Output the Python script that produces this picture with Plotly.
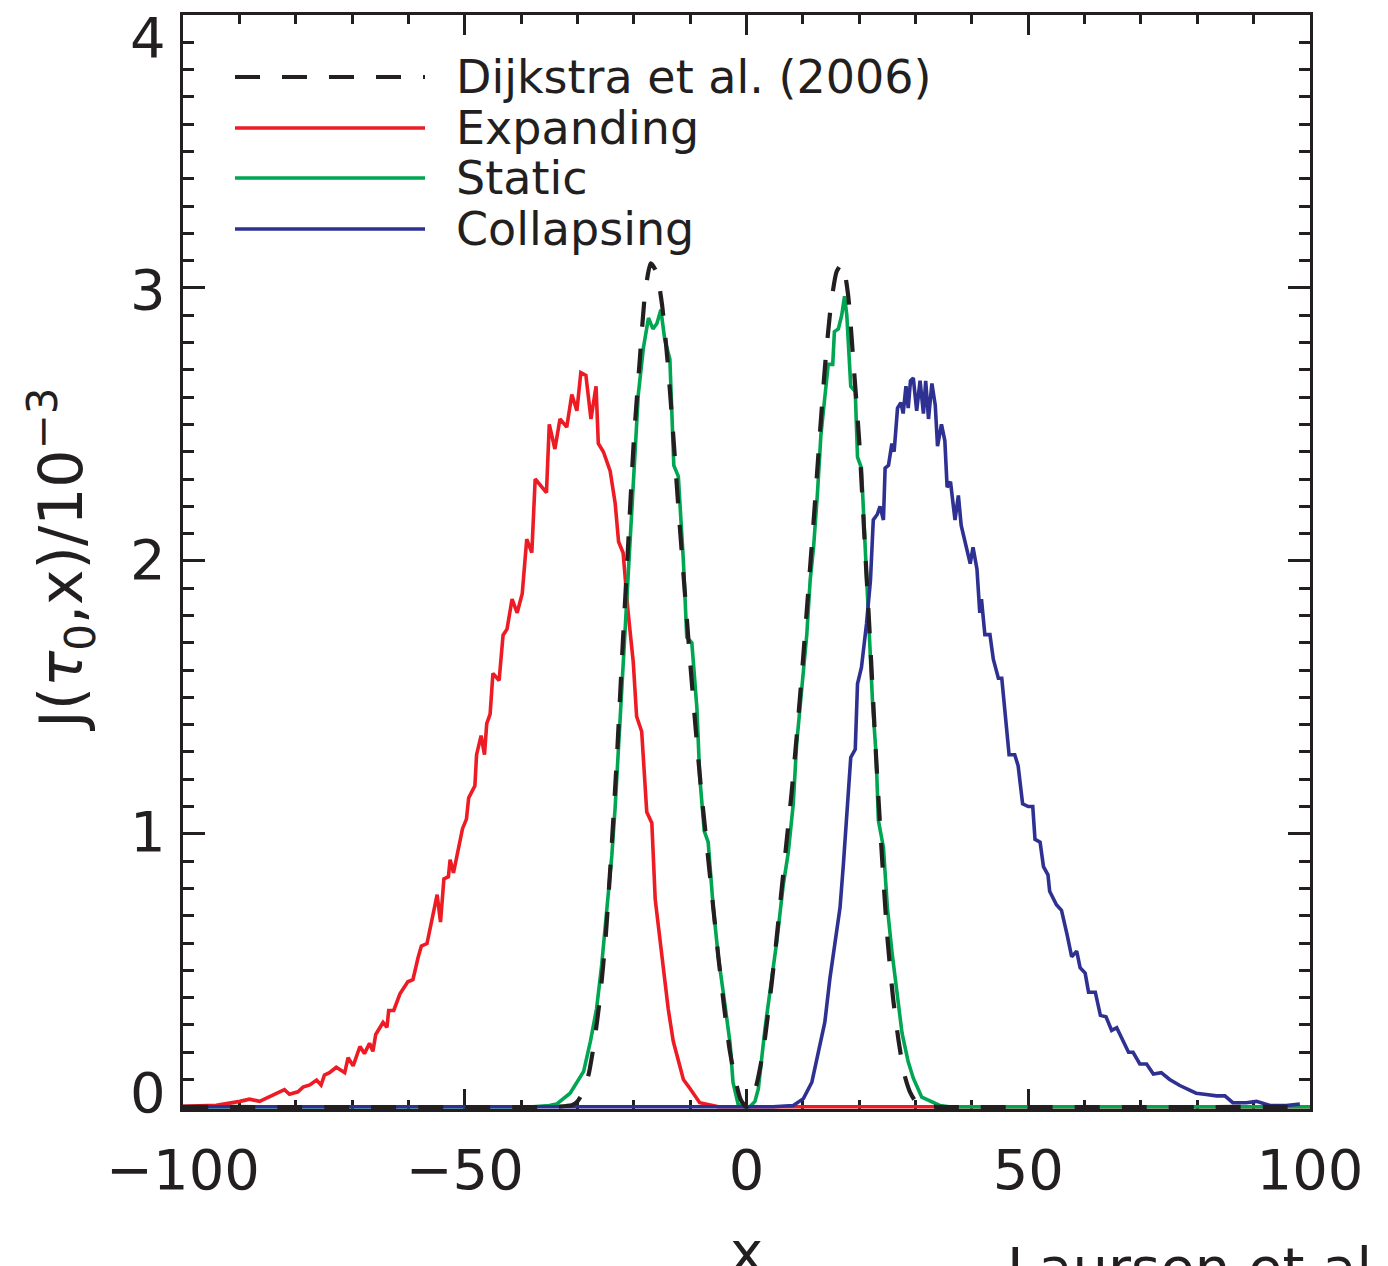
import plotly.graph_objects as go

# ---------------- data ----------------
x_ticks = [-100, -50, 0, 50, 100]
x_tick_labels = ["\u2212100", "\u221250", "0", "50", "100"]
y_ticks = [0, 1, 2, 3, 4]
y_tick_labels = ["0", "1", "2", "3", "4"]

# Dijkstra et al. (2006) analytic curve
dij_x = [-100, -34, -32, -31, -30, -29, -28, -27, -26, -25, -24, -23, -22, -21, -20,
         -19, -18, -17, -16, -15, -14, -13, -12, -11, -10, -9, -8, -7, -6, -5, -4,
         -3, -2, -1, 0, 1, 2, 3, 4, 5, 6, 7, 8, 9, 10, 11, 12, 13, 14, 15, 16, 17,
         18, 19, 20, 21, 22, 23, 24, 25, 26, 27, 28, 29, 30, 31, 32, 34, 100]
dij_y = [0, 0, 0.003, 0.006, 0.02, 0.055, 0.12, 0.24, 0.40, 0.62, 0.93, 1.28, 1.68, 2.06, 2.44,
         2.72, 2.98, 3.09, 3.06, 2.94, 2.73, 2.46, 2.17, 1.90, 1.63, 1.38, 1.15, 0.95, 0.75, 0.55, 0.37,
         0.21, 0.10, 0.025, 0, 0.025, 0.10, 0.21, 0.37, 0.55, 0.75, 0.95, 1.15, 1.38, 1.63, 1.90, 2.17, 2.46, 2.73, 2.94, 3.06, 3.09,
         2.98, 2.72, 2.44, 2.06, 1.68, 1.28, 0.93, 0.62, 0.40, 0.24, 0.12, 0.055, 0.02, 0.006, 0.003, 0, 0]

# Expanding
exp_x = [-100, -94.1, -89.9, -88.2, -86.4, -84.6, -82.8, -82.0, -81.1, -79.6, -78.7, -77.5,
         -76.3, -75.5, -74.9, -74.0, -72.8, -71.3, -70.7, -69.8, -68.6, -67.8, -66.9, -66.3,
         -65.8, -64.5, -63.8, -63.5, -62.6, -61.5, -60.1, -59.2, -58.3, -57.7, -56.7, -55.9,
         -54.9, -54.3, -53.7, -52.9, -52.6, -52.0, -51.4, -50.4, -49.7, -49.3, -48.2, -47.9,
         -47.1, -46.5, -46.1, -45.5, -45.0, -43.9, -43.2, -42.5, -41.6, -40.7, -39.8, -39.0,
         -38.1, -37.5, -36.3, -35.5, -35.0, -34.0, -33.1, -31.9, -31.0, -30.1, -29.4, -28.5,
         -27.6, -26.7, -26.3, -25.4, -24.2, -23.3, -22.7, -21.9, -21.0, -20.1, -19.5, -18.6,
         -17.7, -16.8, -16.2, -14.8, -13.9, -13.0, -11.2, -10.0, -8.3, -6.0, -5.0, 100]
exp_y = [0.002, 0.006, 0.02, 0.028, 0.02, 0.037, 0.055, 0.063, 0.046, 0.055, 0.072, 0.08,
         0.098, 0.08, 0.116, 0.125, 0.145, 0.125, 0.18, 0.15, 0.221, 0.195, 0.233, 0.203,
         0.265, 0.309, 0.291, 0.353, 0.353, 0.414, 0.458, 0.466, 0.545, 0.589, 0.598, 0.677,
         0.777, 0.677, 0.835, 0.843, 0.905, 0.857, 0.917, 1.019, 1.054, 1.132, 1.176, 1.29,
         1.36, 1.29, 1.404, 1.439, 1.588, 1.562, 1.728, 1.75, 1.86, 1.81, 1.88, 2.08,
         2.03, 2.30, 2.27, 2.25, 2.50, 2.41, 2.52, 2.49, 2.61, 2.55, 2.69, 2.68,
         2.52, 2.64, 2.43, 2.40, 2.33, 2.21, 2.07, 2.03, 1.81, 1.63, 1.43, 1.375,
         1.08, 1.04, 0.76, 0.52, 0.36, 0.24, 0.10, 0.066, 0.015, 0.005, 0, 0]

# Static
sta_x = [-100, -37.9, -35.0, -33.7, -31.3, -30.1, -28.9, -27.7, -26.6, -25.7, -24.8, -23.9,
         -23.3, -22.7, -22.1, -21.6, -21.0, -20.4, -19.8, -19.2, -18.3, -17.4, -16.6, -15.9,
         -15.2, -14.5, -13.6, -12.9, -12.1, -11.2, -10.6, -9.7, -8.8, -8.3, -7.5, -6.8, -5.9,
         -5.0, -3.8, -2.9, -2.4, -1.5, -0.5, 0.6, 1.5, 2.1, 3.3, 4.5, 5.4, 6.5, 7.4, 8.3, 8.9,
         9.8, 10.7, 11.3, 11.9, 12.6, 13.2, 13.9, 14.5, 15.3, 15.6, 16.3, 16.9, 17.4, 17.8,
         18.5, 19.3, 19.7, 20.4, 21.2, 21.8, 22.4, 23.0, 23.4, 24.3, 25.0, 25.8, 26.7, 27.6,
         28.7, 29.6, 31.1, 34.3, 36.0, 100]
sta_y = [0, 0, 0.005, 0.01, 0.05, 0.09, 0.13, 0.24, 0.36, 0.52, 0.72, 0.92,
         1.10, 1.32, 1.53, 1.72, 1.92, 2.16, 2.38, 2.61, 2.78, 2.89, 2.85, 2.87,
         2.92, 2.81, 2.74, 2.35, 2.31, 2.00, 1.72, 1.70, 1.46, 1.21, 1.01, 0.97, 0.73,
         0.55, 0.37, 0.23, 0.09, 0.01, 0, 0, 0.02, 0.066, 0.29, 0.47, 0.61, 0.81, 0.93, 1.11, 1.33,
         1.53, 1.73, 1.93, 2.05, 2.25, 2.46, 2.60, 2.72, 2.72, 2.84, 2.85, 2.90, 2.97, 2.90,
         2.64, 2.62, 2.38, 2.34, 1.99, 1.73, 1.47, 1.29, 1.05, 0.95, 0.73, 0.57, 0.43, 0.27,
         0.165, 0.105, 0.035, 0.005, 0, 0]

# Collapsing
col_x = [-100, 4.7, 8.3, 10.1, 11.6, 13.0, 13.9, 14.8, 15.7, 16.6, 17.2, 17.8, 18.5, 19.3,
         19.7, 20.4, 21.3, 22.0, 22.5, 23.2, 23.7, 24.3, 24.6, 25.2, 25.8, 26.2, 26.8, 27.4,
         27.8, 28.3, 28.7, 29.1, 29.6, 30.2, 30.8, 31.4, 31.8, 32.3, 32.9, 33.5, 33.9, 34.6,
         35.2, 35.6, 36.2, 37.0, 37.6, 38.1, 38.8, 39.7, 40.2, 40.9, 41.4, 41.7, 42.3, 43.2,
         43.8, 44.7, 45.3, 45.9, 46.6, 47.6, 48.2, 49.0, 50.0, 50.8, 51.2, 52.1, 52.7, 53.5,
         53.8, 55.0, 55.9, 56.9, 57.7, 58.6, 59.2, 60.1, 60.7, 61.9, 62.8, 63.8, 64.8, 65.7,
         66.6, 67.8, 68.6, 69.8, 71.0, 72.2, 73.6, 75.1, 76.9, 78.4, 79.8, 81.6, 83.4, 84.9,
         86.3, 88.7, 90.5, 92.9, 95.8, 98.2]
col_y = [0, 0, 0.005, 0.03, 0.09, 0.23, 0.31, 0.47, 0.61, 0.73, 0.89, 1.07, 1.28, 1.31,
         1.55, 1.61, 1.77, 1.93, 2.15, 2.17, 2.20, 2.15, 2.34, 2.35, 2.43, 2.40, 2.56, 2.58,
         2.54, 2.64, 2.56, 2.66, 2.67, 2.55, 2.66, 2.54, 2.66, 2.52, 2.65, 2.57, 2.42, 2.50,
         2.44, 2.27, 2.29, 2.15, 2.24, 2.13, 2.07, 1.99, 2.05, 1.97, 1.81, 1.86, 1.73, 1.73,
         1.64, 1.57, 1.57, 1.45, 1.29, 1.29, 1.25, 1.11, 1.10, 1.10, 0.98, 0.97, 0.88, 0.85,
         0.79, 0.74, 0.72, 0.63, 0.55, 0.57, 0.51, 0.49, 0.42, 0.42, 0.335, 0.33, 0.28, 0.29,
         0.25, 0.20, 0.20, 0.157, 0.157, 0.12, 0.125, 0.10, 0.078, 0.064, 0.05, 0.045, 0.04, 0.04,
         0.015, 0.015, 0.02, 0.005, 0.005, 0.01]

series_names = ["Dijkstra et al. (2006)", "Expanding", "Static", "Collapsing"]

# ---------------- style ----------------
FONT = "DejaVu Sans"
BLACK = "#231F20"
RED = "#ED1C24"
GREEN = "#00A651"
BLUE = "#2E3192"
DASH = "25px,22px"
LW = 3.6

fig = go.Figure()
fig.add_trace(go.Scatter(x=exp_x, y=exp_y, mode="lines", name=series_names[1],
                         line=dict(color=RED, width=LW), showlegend=False))
fig.add_trace(go.Scatter(x=sta_x, y=sta_y, mode="lines", name=series_names[2],
                         line=dict(color=GREEN, width=LW), showlegend=False))
fig.add_trace(go.Scatter(x=col_x, y=col_y, mode="lines", name=series_names[3],
                         line=dict(color=BLUE, width=LW), showlegend=False))
fig.add_trace(go.Scatter(x=dij_x, y=dij_y, mode="lines", name=series_names[0],
                         line=dict(color=BLACK, width=4.2, dash=DASH, shape="spline", smoothing=0.6),
                         showlegend=False))

W, H = 1388, 1266
L, R, T, B = 183, 78, 15, 157
pw, ph = W - L - R, H - T - B


def px(xp):
    return (xp - L) / pw


def py(yp):
    return (H - B - yp) / ph


annotations = []
shapes = []

# legend (drawn as lines + text)
leg_colors = [BLACK, RED, GREEN, BLUE]
leg_dash = [DASH, "solid", "solid", "solid"]
leg_ypix = [77, 128, 178, 229]
for name, c, d, yp in zip(series_names, leg_colors, leg_dash, leg_ypix):
    shapes.append(dict(type="line", xref="paper", yref="paper",
                       x0=px(235), x1=px(425), y0=py(yp), y1=py(yp),
                       line=dict(color=c, width=4.2 if c == BLACK else LW, dash=d)))
    annotations.append(dict(text=name, xref="paper", yref="paper", x=px(454), y=py(yp),
                            xanchor="left", yanchor="middle", showarrow=False,
                            font=dict(family=FONT, size=46, color=BLACK)))

# y tick labels (IDL keeps the end labels inside the frame)
y_label_shift = [14, 2, 1, -2, -22]
for v, t, s in zip(y_ticks, y_tick_labels, y_label_shift):
    annotations.append(dict(text=t, xref="paper", yref="y", x=0, y=v, xanchor="right",
                            yanchor="middle", xshift=-15, yshift=s, showarrow=False,
                            font=dict(family=FONT, size=56, color=BLACK)))

# y title
annotations.append(dict(text="J(<i>\u03c4</i><sub>0</sub>,x)/10<sup>\u22123</sup>",
                        xref="paper", yref="paper", x=px(61), y=py(560), textangle=-90,
                        xanchor="center", yanchor="middle", showarrow=False,
                        font=dict(family=FONT, size=60, color=BLACK)))
# x title
annotations.append(dict(text="x", xref="paper", yref="paper", x=0.5, y=py(1251),
                        xanchor="center", yanchor="middle", showarrow=False,
                        font=dict(family=FONT, size=56, color=BLACK)))
# credit (cut off at the bottom)
annotations.append(dict(text="Laursen et al. 2009", xref="paper", yref="paper", x=px(1005),
                        y=py(1267), xanchor="left", yanchor="middle", showarrow=False,
                        font=dict(family=FONT, size=56, color=BLACK)))

fig.update_layout(
    width=W, height=H,
    margin=dict(l=L, r=R, t=T, b=B),
    paper_bgcolor="white", plot_bgcolor="white",
    showlegend=False,
    annotations=annotations, shapes=shapes,
    font=dict(family=FONT, color=BLACK),
)
fig.update_xaxes(
    range=[-100, 100], showgrid=False, zeroline=False,
    showline=True, linewidth=3, linecolor=BLACK, mirror="ticks",
    ticks="inside", ticklen=20, tickwidth=3, tickcolor=BLACK,
    tickmode="array", tickvals=x_ticks, ticktext=x_tick_labels,
    tickfont=dict(family=FONT, size=56, color=BLACK),
    ticklabelstandoff=10,
    minor=dict(ticks="inside", ticklen=9, tickwidth=3, tickcolor=BLACK,
               dtick=10, tick0=0, showgrid=False),
    layer="below traces",
)
fig.update_yaxes(
    range=[-0.008, 4], showgrid=False, zeroline=False,
    showline=True, linewidth=3, linecolor=BLACK, mirror="ticks",
    ticks="inside", ticklen=22, tickwidth=3, tickcolor=BLACK,
    tickmode="array", tickvals=y_ticks, showticklabels=False,
    minor=dict(ticks="inside", ticklen=11, tickwidth=3, tickcolor=BLACK,
               dtick=0.1, tick0=0, showgrid=False),
    layer="below traces",
)

fig.write_html("out.html", config={"displayModeBar": False},
               post_script="document.body.style.margin='0px';document.body.style.overflow='hidden';")
